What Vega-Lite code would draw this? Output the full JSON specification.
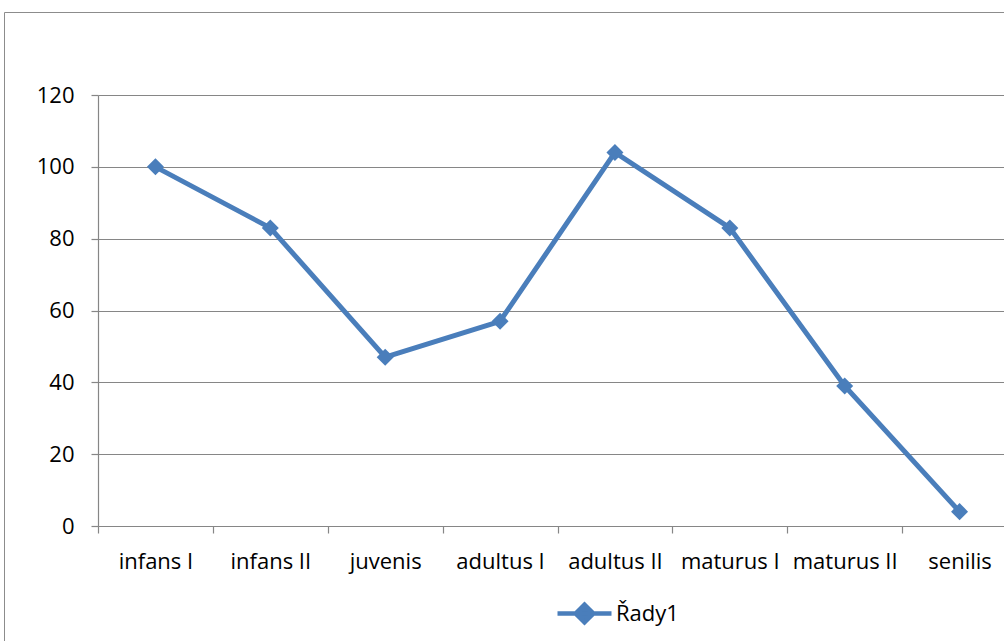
{
  "$schema": "https://vega.github.io/schema/vega-lite/v6.json",
  "autosize": {"type": "none"},
  "padding": {"left": 4, "top": 12, "right": -2, "bottom": -2},
  "width": 1002,
  "height": 631,
  "background": "white",
  "config": {
    "view": {"stroke": "#8C8C8C", "strokeWidth": 1},
    "font": "Open Sans",
    "axis": {
      "labelFont": "Open Sans",
      "labelFontSize": 22,
      "labelColor": "#000000",
      "domainColor": "#868686",
      "tickColor": "#868686",
      "gridColor": "#868686",
      "domainWidth": 1.2,
      "tickWidth": 1.2,
      "gridWidth": 1.2,
      "tickSize": 7,
      "title": null
    }
  },
  "data": {
    "values": [
      {"category": "infans I", "value": 100, "series": "Řady1"},
      {"category": "infans II", "value": 83, "series": "Řady1"},
      {"category": "juvenis", "value": 47, "series": "Řady1"},
      {"category": "adultus I", "value": 57, "series": "Řady1"},
      {"category": "adultus II", "value": 104, "series": "Řady1"},
      {"category": "maturus I", "value": 83, "series": "Řady1"},
      {"category": "maturus II", "value": 39, "series": "Řady1"},
      {"category": "senilis", "value": 4, "series": "Řady1"}
    ]
  },
  "encoding": {
    "x": {
      "field": "category",
      "type": "nominal",
      "sort": null,
      "scale": {"type": "band", "range": [94, 1013], "paddingInner": 0, "paddingOuter": 0},
      "axis": {
        "orient": "bottom",
        "offset": -117,
        "labelAngle": 0,
        "tickBand": "extent",
        "grid": false,
        "labelPadding": 35,
        "labelBaseline": "alphabetic"
      }
    },
    "y": {
      "field": "value",
      "type": "quantitative",
      "scale": {"domain": [0, 120], "range": [514, 83], "nice": false},
      "axis": {
        "orient": "left",
        "offset": -94,
        "values": [0, 20, 40, 60, 80, 100, 120],
        "grid": true,
        "labelPadding": 17,
        "labelBaseline": "middle"
      }
    },
    "color": {
      "field": "series",
      "type": "nominal",
      "scale": {"range": ["#4A7EBB"]},
      "legend": {
        "orient": "none",
        "legendX": 551,
        "legendY": 572,
        "title": null,
        "padding": 0,
        "labelFont": "Open Sans",
        "labelFontSize": 22,
        "labelColor": "#000000",
        "labelOffset": 2,
        "symbolType": "M-1,0H1M-0.33,0L0,-0.33L0.33,0L0,0.33Z",
        "symbolSize": 2916,
        "encode": {
          "symbols": {
            "update": {
              "fill": {"value": "#4A7EBB"},
              "stroke": {"value": "#4A7EBB"},
              "strokeWidth": {"value": 4.5},
              "opacity": {"value": 1},
              "shape": {"value": "M-1,0H1M-0.33,0L0,-0.33L0.33,0L0,0.33Z"},
              "size": {"value": 2916}
            }
          }
        }
      }
    }
  },
  "layer": [
    {"mark": {"type": "line", "strokeWidth": 5}},
    {"mark": {"type": "point", "shape": "diamond", "filled": true, "size": 290, "opacity": 1}}
  ]
}
